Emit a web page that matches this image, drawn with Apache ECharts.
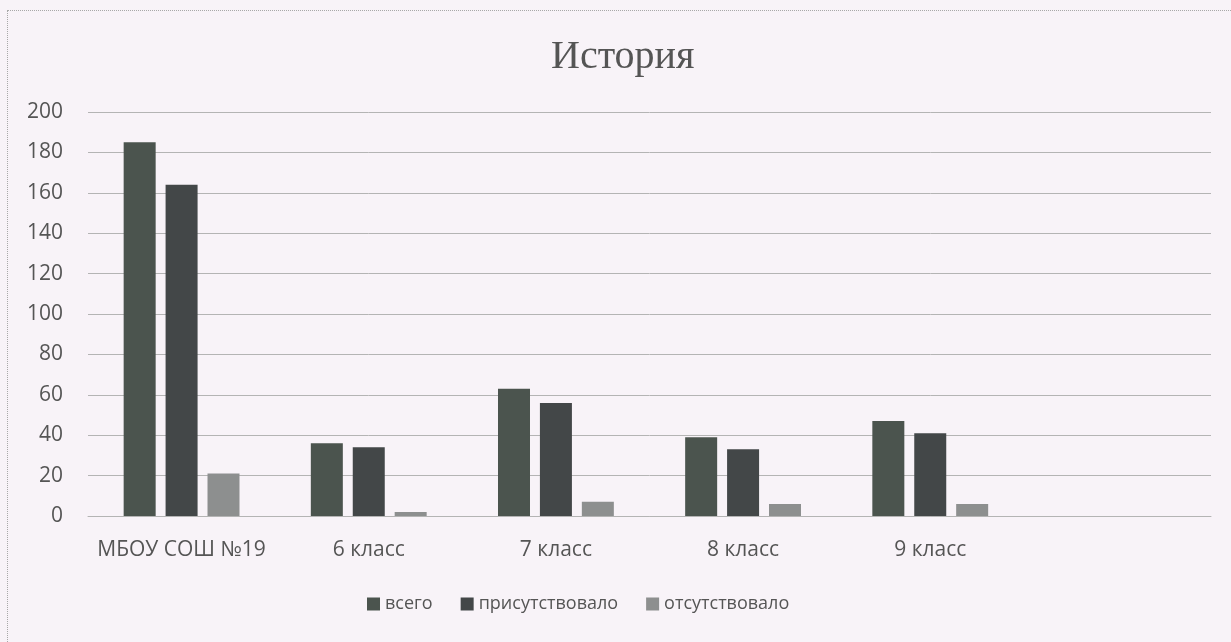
<!DOCTYPE html>
<html>
<head>
<meta charset="utf-8">
<script src="https://cdn.jsdelivr.net/npm/echarts@6/dist/echarts.min.js"></script>
<style>
html,body{margin:0;padding:0;background:#f8f3f8;}
#wrap{position:absolute;left:7px;top:10px;width:1240px;height:660px;border:1px dotted #a8a8a8;box-sizing:border-box;}
#chart{position:absolute;left:0;top:0;width:1231px;height:642px;}
</style>
</head>
<body>
<div id="wrap"></div>
<div id="chart"></div>
<script>
const categories = ['МБОУ СОШ №19', '6 класс', '7 класс', '8 класс', '9 класс', ''];
const total = [185, 36, 63, 39, 47, null];
const present = [164, 34, 56, 33, 41, null];
const absent = [21, 2, 7, 6, 6, null];
const yTicks = [0, 20, 40, 60, 80, 100, 120, 140, 160, 180, 200];

const chart = echarts.init(document.getElementById('chart'), null, {renderer: 'canvas'});
const font = '"Open Sans", sans-serif';
chart.setOption({
  backgroundColor: 'transparent',
  animation: false,
  title: {
    text: 'История',
    left: 546,
    top: 32,
    textStyle: {fontFamily: '"Liberation Serif", serif', fontSize: 40, fontWeight: 'normal', color: '#555555'}
  },
  grid: {left: 88, right: 20, top: 112, bottom: 126},
  legend: {
    bottom: 24,
    left: 362,
    itemWidth: 13,
    itemHeight: 13,
    itemGap: 28,
    icon: 'rect',
    textStyle: {fontFamily: font, fontSize: 18, color: '#555555'},
    data: ['всего', 'присутствовало', 'отсутствовало']
  },
  xAxis: {
    type: 'category',
    data: categories,
    axisLine: {show: true, lineStyle: {color: '#b4b4b4', width: 1}},
    axisTick: {show: false},
    axisLabel: {fontFamily: font, fontSize: 21, color: '#555555', margin: 24, interval: 0}
  },
  yAxis: {
    type: 'value',
    min: yTicks[0],
    max: yTicks[yTicks.length - 1],
    interval: 20,
    axisLine: {show: false},
    axisTick: {show: false},
    splitLine: {lineStyle: {color: '#b4b4b4', width: 1}},
    axisLabel: {fontFamily: font, fontSize: 21, color: '#555555', margin: 25}
  },
  series: [
    {name: 'всего', type: 'bar', data: total, barWidth: 32, barGap: '31%', itemStyle: {color: '#4b544e'}},
    {name: 'присутствовало', type: 'bar', data: present, barWidth: 32, barGap: '31%', itemStyle: {color: '#434748'}},
    {name: 'отсутствовало', type: 'bar', data: absent, barWidth: 32, barGap: '31%', itemStyle: {color: '#8d8f8f'}}
  ]
});
</script>
</body>
</html>
